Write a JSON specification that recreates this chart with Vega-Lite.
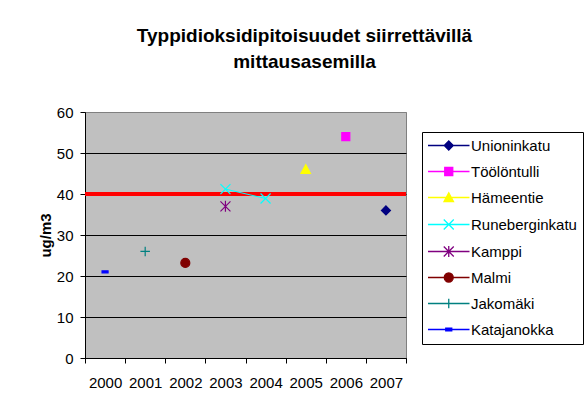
{
  "$schema": "https://vega.github.io/schema/vega-lite/v6.json",
  "width": 321,
  "height": 246,
  "autosize": {"type": "none"},
  "padding": {"left": 85, "top": 112, "right": 178, "bottom": 49},
  "background": "white",
  "title": {
    "text": ["Typpidioksidipitoisuudet siirrettävillä", "mittausasemilla"],
    "font": "Liberation Sans",
    "fontSize": 19,
    "fontWeight": "bold",
    "color": "black",
    "lineHeight": 26,
    "anchor": "middle",
    "frame": "group",
    "dx": 59,
    "offset": 33
  },
  "data": {
    "values": [
      {"station": "Unioninkatu", "year": "2007", "value": 36},
      {"station": "Töölöntulli", "year": "2006", "value": 54},
      {"station": "Hämeentie", "year": "2005", "value": 46},
      {"station": "Runeberginkatu", "year": "2003", "value": 41.2},
      {"station": "Runeberginkatu", "year": "2004", "value": 38.9},
      {"station": "Kamppi", "year": "2003", "value": 37},
      {"station": "Malmi", "year": "2002", "value": 23.2},
      {"station": "Jakomäki", "year": "2001", "value": 26},
      {"station": "Katajanokka", "year": "2000", "value": 21}
    ]
  },
  "encoding": {
    "x": {
      "field": "year",
      "type": "ordinal",
      "scale": {"type": "band", "domain": ["2000", "2001", "2002", "2003", "2004", "2005", "2006", "2007"], "paddingInner": 0, "paddingOuter": 0},
      "axis": {
        "title": null,
        "labelAngle": 0,
        "tickBand": "extent",
        "tickSize": 5,
        "tickColor": "black",
        "domainColor": "black",
        "labelFont": "Liberation Sans",
        "labelFontSize": 15,
        "labelColor": "black",
        "labelPadding": 12,
        "grid": false
      }
    },
    "y": {
      "field": "value",
      "type": "quantitative",
      "scale": {"domain": [0, 60], "nice": false},
      "axis": {
        "title": "ug/m3",
        "titleFont": "Liberation Sans",
        "titleFontSize": 15,
        "titleFontWeight": "bold",
        "titleColor": "black",
        "titlePadding": 3,
        "values": [0, 10, 20, 30, 40, 50, 60],
        "tickSize": 5,
        "tickColor": "black",
        "domainColor": "black",
        "labelFont": "Liberation Sans",
        "labelFontSize": 15,
        "labelColor": "black",
        "labelPadding": 7,
        "grid": true,
        "gridColor": {"condition": {"test": "datum.value == 60", "value": "#808080"}, "value": "black"},
        "gridOpacity": 1
      }
    }
  },
  "layer": [
    {
      "mark": {"type": "rule", "color": "#FF0000", "strokeWidth": 3},
      "encoding": {"y": {"datum": 40}, "x": null}
    },
    {
      "transform": [{"filter": "datum.station == 'Runeberginkatu'"}],
      "mark": {"type": "line", "color": "#00FFFF", "strokeWidth": 1}
    },
    {
      "mark": {"type": "point", "filled": true, "opacity": 1, "size": 100, "strokeWidth": 1.2},
      "encoding": {
        "shape": {
          "field": "station", "type": "nominal", "legend": null,
          "scale": {
            "domain": ["Unioninkatu", "Töölöntulli", "Hämeentie", "Runeberginkatu", "Kamppi", "Malmi", "Jakomäki", "Katajanokka"],
            "range": [
              "M0,-0.9L0.9,0L0,0.9L-0.9,0Z",
              "M-0.8,-0.8H0.8V0.8H-0.8Z",
              "M0,-0.95L0.95,0.8H-0.95Z",
              "M-1,-1L1,1M-1,1L1,-1",
              "M-1,-1L1,1M-1,1L1,-1M0,-1.1V1.1",
              "M-0.9,0A0.9,0.9 0 1 1 0.9,0A0.9,0.9 0 1 1 -0.9,0Z",
              "M-0.95,0H0.95M0,-0.95V0.95",
              "M-0.6,-0.2H0.6V0.2H-0.6Z"
            ]
          }
        },
        "fill": {
          "field": "station", "type": "nominal", "legend": null,
          "scale": {
            "domain": ["Unioninkatu", "Töölöntulli", "Hämeentie", "Runeberginkatu", "Kamppi", "Malmi", "Jakomäki", "Katajanokka"],
            "range": ["#000080", "#FF00FF", "#FFFF00", "#00FFFF", "#800080", "#800000", "#008080", "#0000FF"]
          }
        },
        "stroke": {
          "field": "station", "type": "nominal", "legend": null,
          "scale": {
            "domain": ["Unioninkatu", "Töölöntulli", "Hämeentie", "Runeberginkatu", "Kamppi", "Malmi", "Jakomäki", "Katajanokka"],
            "range": ["#000080", "#FF00FF", "#FFFF00", "#00FFFF", "#800080", "#800000", "#008080", "#0000FF"]
          }
        }
      }
    },
    {
      "transform": [{"filter": "datum.value < 0"}],
      "mark": {"type": "point", "filled": true, "opacity": 1, "size": 100, "strokeWidth": 1},
      "encoding": {
        "shape": {
          "field": "station", "type": "nominal",
          "legend": {"title": null, "orient": "none", "legendX": 337, "legendY": 20, "padding": 6, "strokeColor": "black", "fillColor": "white", "symbolSize": 100, "symbolStrokeWidth": 1.3, "labelFont": "Liberation Sans", "labelFontSize": 15, "labelColor": "black", "labelOffset": 28, "rowPadding": 10, "labelLimit": 200, "symbolOpacity": 1},
          "scale": {
            "domain": ["Unioninkatu", "Töölöntulli", "Hämeentie", "Runeberginkatu", "Kamppi", "Malmi", "Jakomäki", "Katajanokka"],
            "range": [
              "M-1.5,0H6.8M2.65,-0.9L3.55,0L2.65,0.9L1.75,0Z",
              "M-1.5,0H6.8M1.85,-0.8H3.45V0.8H1.85Z",
              "M-1.5,0H6.8M2.65,-0.95L3.6,0.8H1.7Z",
              "M-1.5,0H6.8M1.65,-1L3.65,1M1.65,1L3.65,-1",
              "M-1.5,0H6.8M1.65,-1L3.65,1M1.65,1L3.65,-1M2.65,-1.1V1.1",
              "M-1.5,0H6.8M1.75,0A0.9,0.9 0 1 1 3.55,0A0.9,0.9 0 1 1 1.75,0Z",
              "M-1.5,0H6.8M1.7,0H3.6M2.65,-0.95V0.95",
              "M-1.5,0H6.8M2.05,-0.25H3.25V0.25H2.05Z"
            ]
          }
        },
        "fill": {
          "field": "station", "type": "nominal",
          "legend": {"title": null, "orient": "none", "legendX": 337, "legendY": 20, "padding": 6, "strokeColor": "black", "fillColor": "white", "symbolSize": 100, "symbolStrokeWidth": 1.3, "labelFont": "Liberation Sans", "labelFontSize": 15, "labelColor": "black", "labelOffset": 28, "rowPadding": 10, "labelLimit": 200, "symbolOpacity": 1},
          "scale": {
            "domain": ["Unioninkatu", "Töölöntulli", "Hämeentie", "Runeberginkatu", "Kamppi", "Malmi", "Jakomäki", "Katajanokka"],
            "range": ["#000080", "#FF00FF", "#FFFF00", "#00FFFF", "#800080", "#800000", "#008080", "#0000FF"]
          }
        },
        "stroke": {
          "field": "station", "type": "nominal",
          "legend": {"title": null, "orient": "none", "legendX": 337, "legendY": 20, "padding": 6, "strokeColor": "black", "fillColor": "white", "symbolSize": 100, "symbolStrokeWidth": 1.3, "labelFont": "Liberation Sans", "labelFontSize": 15, "labelColor": "black", "labelOffset": 28, "rowPadding": 10, "labelLimit": 200, "symbolOpacity": 1},
          "scale": {
            "domain": ["Unioninkatu", "Töölöntulli", "Hämeentie", "Runeberginkatu", "Kamppi", "Malmi", "Jakomäki", "Katajanokka"],
            "range": ["#000080", "#FF00FF", "#FFFF00", "#00FFFF", "#800080", "#800000", "#008080", "#0000FF"]
          }
        }
      }
    }
  ],
  "resolve": {"scale": {"shape": "independent", "fill": "independent", "stroke": "independent"}},
  "config": {
    "font": "Liberation Sans",
    "view": {"fill": "#C0C0C0", "stroke": "#808080"}
  }
}
